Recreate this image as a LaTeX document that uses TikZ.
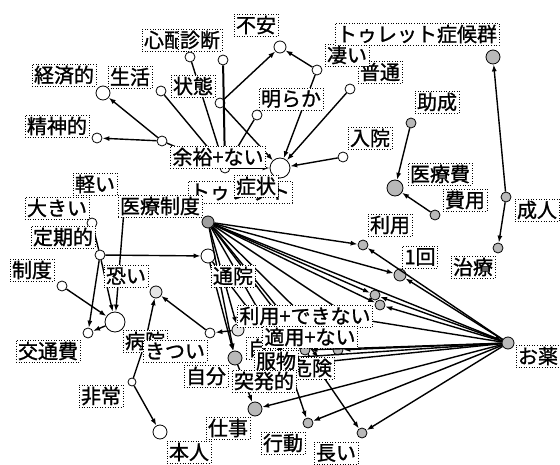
\documentclass[tikz,border=0pt]{standalone}
\usepackage{fontspec}
\newfontfamily\jp[FakeBold=1.2]{Noto Sans CJK JP}
\usetikzlibrary{arrows.meta}
\begin{document}
\begin{tikzpicture}[x=1pt,y=-1pt,
  wn/.style={circle,draw,line width=0.8pt,fill=white,inner sep=0pt,minimum size=#1},
  wn/.default=10pt,
  gn/.style={circle,draw,line width=0.8pt,fill=gray!55,inner sep=0pt,minimum size=#1},
  gn/.default=10pt,
  ln/.style={circle,draw,line width=0.8pt,fill=gray!20,inner sep=0pt,minimum size=#1},
  ln/.default=10pt,
  hubn/.style={circle,draw,line width=0.8pt,fill=gray!75,inner sep=0pt,minimum size=12pt},
  lb/.style={draw,dotted,line width=0.6pt,fill=white,font=\jp\fontsize{20}{20}\selectfont,
    inner xsep=2pt,inner ysep=0pt,minimum height=22pt},
  ed/.style={line width=1.4pt},
  ar/.style={ed,-{Latex[length=7pt,width=5pt]}}
]
\fill[white] (0,0) rectangle (560,465);
\path[use as bounding box] (0,0) rectangle (560,465);

% ---------- circles ----------
% top-left cluster
\node[wn=14pt] (kz) at (103,93) {};
\node[wn] (sk) at (161,91) {};
\node[wn] (sp) at (190,57) {};
\node[wn] (sd) at (223,60) {};
\node[wn] (jt) at (220,103) {};
\node[wn=12pt] (fa) at (280,47) {};
\node[wn] (ss) at (97,138) {};
\node[wn] (yy) at (162,141) {};
\node[wn] (tw) at (225,168) {};
\node[wn=20pt] (sj) at (280,168) {};
\node[wn] (ak) at (257,115) {};
\node[wn] (sg) at (317,70) {};
\node[wn] (ft) at (350,89) {};
\node[wn] (ni) at (343,157) {};
% right cluster
\node[gn] (js) at (411,123) {};
\node[gn=16pt] (ir) at (395,188) {};
\node[gn] (hy) at (435,215) {};
\node[gn=14pt] (ts) at (493,57) {};
\node[gn] (sn) at (506,197) {};
\node[gn] (cr) at (498,248) {};
% middle-left cluster
\node[wn] (oo) at (92,223) {};
\node[wn] (tk) at (100,255) {};
\node[wn] (sdo) at (62,286) {};
\node[wn=20pt] (kw) at (115,322) {};
\node[wn] (kt) at (88,333) {};
\node[wn] (is) at (124,210) {};
\node[wn=14pt] (ti) at (208,256) {};
\node[ln=12pt] (bb) at (156,292) {};
\node[wn] (kk) at (210,333) {};
\node[wn] (bi) at (145,343) {};
\node[wn=8pt] (hj) at (132,382) {};
\node[wn=14pt] (hn) at (160,432) {};
% central
\node[hubn] (hub) at (208,222) {};
\node[gn] (ry) at (363,245) {};
\node[gn=12pt] (ik) at (400,275) {};
\node[gn] (n1) at (375,295) {};
\node[gn] (n2) at (380,305) {};
\node[gn] (n3) at (305,350) {};
\node[gn] (n4) at (338,350) {};
\node[ln=12pt] (cl) at (238,330) {};
\node[gn=14pt] (jb) at (235,358) {};
\node[gn] (nm) at (286,358) {};
\node[gn] (nq) at (352,318) {};
\node[gn] (nr) at (322,362) {};
\node[gn=14pt] (sgt) at (255,409) {};
\node[gn] (kd) at (308,423) {};
\node[gn] (ng) at (362,433) {};
\node[gn=12pt] (ok) at (508,343) {};

% ---------- connectors ----------
\draw[ar] (yy) -- (kz);
\draw[ar] (yy) -- (ss);
\draw[ed] (yy) -- (tw);
\draw[ed] (sk) -- (tw);
\draw[ed] (sp) -- (tw);
\draw[ed,line width=2pt] (sd) -- (tw);
\draw[ed] (ak) -- (tw);
\draw[ar] (jt) -- (fa);
\draw[ar] (jt) -- (sj);
\draw[ar] (tw) -- (sj);
\draw[ar] (sg) -- (fa);
\draw[ar] (sg) -- (sj);
\draw[ar] (ft) -- (sj);
\draw[ar] (ni) -- (sj);

\draw[ar] (js) -- (ir);
\draw[ar] (hy) -- (ir);
\draw[ar] (sn) -- (ts);
\draw[ar] (sn) -- (cr);

\draw[ed] (oo) -- (tk);
\draw[ar] (tk) -- (ti);
\draw[ar] (tk) -- (kt);
\draw[ar] (tk) -- (kw);
\draw[ar] (is) -- (kw);
\draw[ar] (sdo) -- (kw);
\draw[ar] (kw) -- (kt);
\draw[ar] (cl) -- (kk);
\draw[ar] (kk) -- (bb);
\draw[ar] (bi) -- (bb);
\draw[ed] (bi) -- (hj);
\draw[ar] (hj) -- (hn);

\foreach \t in {ry,ik,n1,n2,n3,n4,nq,nm,nr,cl,jb,ok}
  \draw[ar] (hub) -- (\t);
\draw[ar] (ti) -- (jb);
\draw[ar] (ti) -- (nm);
\foreach \t in {ry,ik,n1,n2,n3,n4,nq,nm,nr,sgt,kd,ng}
  \draw[ar] (ok) -- (\t);
\draw[ar] (jb) -- (sgt);
\draw[ar] (nm) -- (kd);
\draw[ar] (n3) -- (ng);

% ---------- labels ----------
\node[lb] (l1) at (64,75) {経済的};
\node[lb] (l2) at (130,77) {生活};
\node[lb] (l3) at (164,40) {心配};
\node[lb] (l4) at (200,40) {診断};
\node[lb] (l5) at (256,25) {不安};
\node[lb] (l6) at (193,86) {状態};
\node[lb] (l7) at (291,99) {明らか};
\node[lb] (l8) at (380,72) {普通};
\node[lb] (l9) at (347,55) {凄い};
\node[lb] (l10) at (417,34) {トゥレット症候群};
\node[lb] (l11) at (57,126) {精神的};
\node[lb] (l12) at (218,157) {余裕+ない};
\node[lb] (l13) at (370,138) {入院};
\node[lb] (l14) at (437,102) {助成};
\node[lb] (l15) at (440,174) {医療費};
\node[lb] (l16) at (465,200) {費用};
\node[lb] (l17) at (537,210) {成人};
\node[lb] (l18) at (473,267) {治療};
\node[lb] (l19) at (390,225) {利用};
\node[lb] (l20) at (420,257) {1回};
\node[lb] (l21) at (95,184) {軽い};
\node[lb] (l22) at (57,208) {大きい};
\node[lb] (l23) at (240,192) {トゥレット};
\node[lb] (l24) at (256,186) {症状};
\node[lb] (l25) at (160,206) {医療制度};
\node[lb] (l26) at (63,237) {定期的};
\node[lb] (l27) at (32,270) {制度};
\node[lb] (l28) at (126,276) {恐い};
\node[lb] (l29) at (233,276) {通院};
\node[lb] (l30) at (48,351) {交通費};
\node[lb] (l31) at (145,341) {病院};
\node[lb] (l32) at (175,351) {きつい};
\node[lb] (l33) at (101,396) {非常};
\node[lb] (l34) at (189,452) {本人};
\node[lb] (l35) at (305,316) {利用+できない};
\node[lb] (l36) at (258,348) {自};
\node[lb] (l37) at (310,337) {適用+ない};
\node[lb] (l38) at (312,368) {危険};
\node[lb] (l39) at (276,361) {服物};
\node[lb] (l40) at (206,376) {自分};
\node[lb] (l41) at (264,381) {突発的};
\node[lb] (l42) at (228,428) {仕事};
\node[lb] (l43) at (283,443) {行動};
\node[lb] (l44) at (336,453) {長い};
\node[lb] (l45) at (538,356) {お薬};
\end{tikzpicture}
\end{document}
